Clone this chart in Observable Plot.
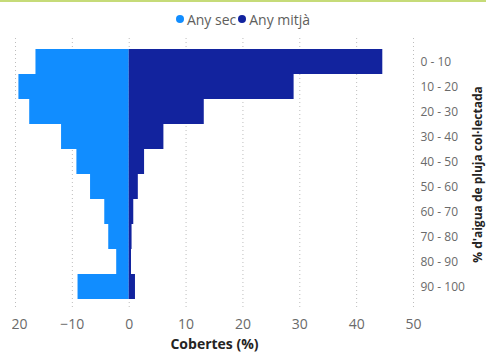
<!DOCTYPE html>
<html>
<head>
<meta charset="utf-8">
<script src="https://cdn.jsdelivr.net/npm/d3@7"></script>
<script src="https://cdn.jsdelivr.net/npm/@observablehq/plot@0.6"></script>
<style>
  html, body { margin: 0; padding: 0; background: #fff; }
  body { width: 486px; height: 353px; position: relative; overflow: hidden; font-family: "Open Sans", sans-serif; }
  #topline { position: absolute; left: 0; top: 0; width: 486px; height: 2px; background: #c6db78; }
  #legend { position: absolute; top: 8px; left: 0; width: 486px; text-align: center; font-size: 14px; color: #605e5c; white-space: nowrap; }
  #legend span.item { display: inline-flex; align-items: center; margin: 0 1px; }
  #legend span.dot { display: inline-block; width: 8px; height: 8px; border-radius: 50%; margin-right: 3px; }
  #chart { position: absolute; left: 0; top: 0; }
  #chart svg { clip-path: inset(0 0 0 12px); }
</style>
</head>
<body>
<div id="topline"></div>
<div id="legend"></div>
<div id="chart"></div>
<script>
const categories = ["0 - 10", "10 - 20", "20 - 30", "30 - 40", "40 - 50", "50 - 60", "60 - 70", "70 - 80", "80 - 90", "90 - 100"];
const seriesNames = ["Any sec", "Any mitjà"];
const seriesColors = ["#118DFF", "#12239E"];
const anySec = [-16.4, -19.4, -17.5, -11.9, -9.2, -6.8, -4.3, -3.6, -2.2, -9.0];
const anyMitja = [44.6, 29.0, 13.2, 6.1, 2.7, 1.6, 0.8, 0.5, 0.4, 1.1];
const xTicks = [-20, -10, 0, 10, 20, 30, 40, 50];

const rows = [];
categories.forEach((c, i) => {
  rows.push({cat: c, series: seriesNames[0], value: anySec[i]});
  rows.push({cat: c, series: seriesNames[1], value: anyMitja[i]});
});

// legend
const legend = document.getElementById("legend");
seriesNames.forEach((s, i) => {
  const item = document.createElement("span");
  item.className = "item";
  const dot = document.createElement("span");
  dot.className = "dot";
  dot.style.background = seriesColors[i];
  item.appendChild(dot);
  item.appendChild(document.createTextNode(s));
  legend.appendChild(item);
});

const chart = Plot.plot({
  width: 486,
  height: 353,
  marginTop: 38,
  marginBottom: 43,
  marginLeft: 15,
  marginRight: 73,
  style: {fontFamily: "Open Sans, sans-serif", background: "transparent", overflow: "visible"},
  x: {domain: [-20, 50]},
  y: {domain: categories, paddingInner: 0, paddingOuter: 0.4},
  color: {domain: seriesNames, range: seriesColors},
  marks: [
    Plot.gridX(xTicks, {stroke: "#bdbdbd", strokeOpacity: 1, strokeDasharray: "1,3"}),
    Plot.barX(rows, {x: "value", y: "cat", fill: "series", insetTop: 0, insetBottom: 0}),
    Plot.axisX(xTicks, {
      tickSize: 0, tickPadding: 9, fontSize: 14, fill: "#6a6a6a",
      label: "Cobertes (%)", labelAnchor: "center", labelArrow: "none", labelOffset: 38
    }),
    Plot.axisY({
      anchor: "right", tickSize: 0, tickPadding: 7, fontSize: 12, fill: "#6a6a6a",
      label: null
    }),
    Plot.axisY({
      anchor: "right", ticks: [], tickSize: 0,
      label: "% d'aigua de pluja col·lectada", labelAnchor: "center", labelArrow: "none", labelOffset: 68
    })
  ]
});

// style axis titles
chart.querySelectorAll("g[aria-label='x-axis label'] text, g[aria-label='y-axis label'] text").forEach(t => {
  t.setAttribute("font-weight", "bold");
  t.setAttribute("fill", "#252423");
});
chart.querySelectorAll("g[aria-label='x-axis label'] text").forEach(t => t.setAttribute("font-size", "14"));
chart.querySelectorAll("g[aria-label='y-axis label'] text").forEach(t => t.setAttribute("font-size", "12"));

document.getElementById("chart").appendChild(chart);
</script>
</body>
</html>
